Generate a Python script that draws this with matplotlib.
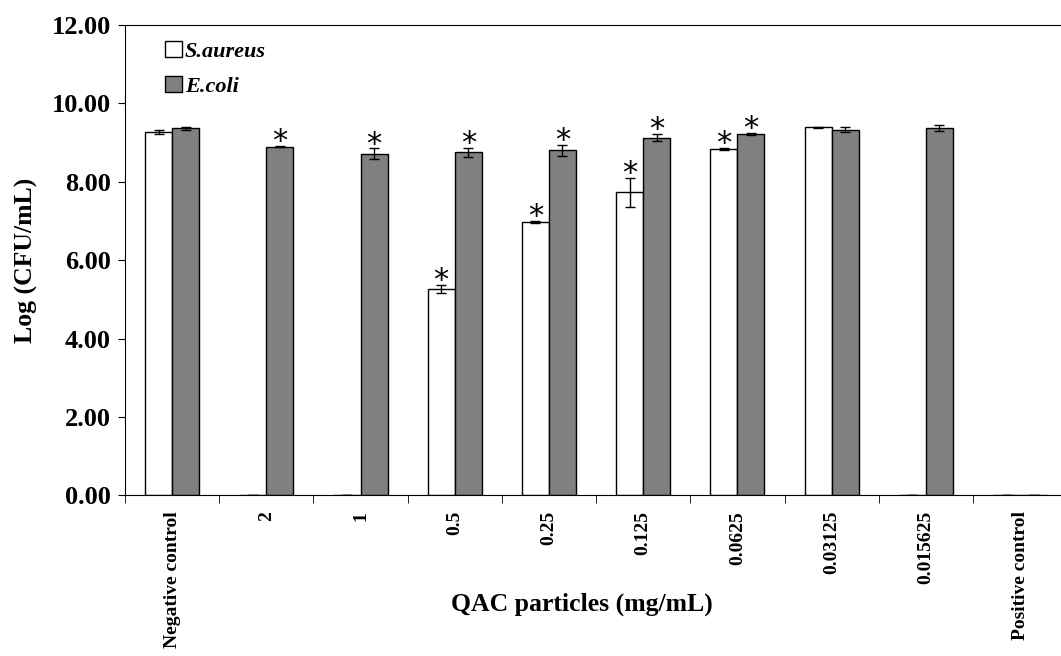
import numpy as np
import matplotlib
matplotlib.use('Agg')
import matplotlib.pyplot as plt

plt.rcParams['font.family'] = ['Liberation Serif', 'DejaVu Serif']

categories = ['Negative control', '2', '1', '0.5', '0.25', '0.125',
              '0.0625', '0.03125', '0.015625', 'Positive control']

# Log(CFU/mL)
s_aureus = [9.27, 0.00, 0.00, 5.27, 6.97, 7.73, 8.84, 9.39, 0.00, 0.00]
s_aureus_err = [0.05, 0.0, 0.0, 0.10, 0.03, 0.38, 0.03, 0.01, 0.0, 0.0]
e_coli = [9.36, 8.90, 8.72, 8.75, 8.81, 9.13, 9.22, 9.33, 9.37, 0.00]
e_coli_err = [0.04, 0.02, 0.13, 0.12, 0.14, 0.10, 0.02, 0.07, 0.07, 0.0]

# significance markers
s_aureus_star = [False, False, False, True, True, True, True, False, False, False]
e_coli_star = [False, True, True, True, True, True, True, False, False, False]

fig = plt.figure(figsize=(10.61, 6.56), dpi=100)
ax = fig.add_axes([0.1178, 0.2447, 0.888, 0.7172])

x = np.arange(len(categories))
w = 0.287

ax.bar(x - w / 2, s_aureus, w, color='white', edgecolor='black', linewidth=1,
       yerr=s_aureus_err, capsize=3.5, error_kw={'elinewidth': 1, 'capthick': 1},
       label='S.aureus', zorder=2)
ax.bar(x + w / 2, e_coli, w, color='#808080', edgecolor='black', linewidth=1,
       yerr=e_coli_err, capsize=3.5, error_kw={'elinewidth': 1, 'capthick': 1},
       label='E.coli', zorder=2)

# asterisks
for i in range(len(categories)):
    if s_aureus_star[i]:
        ax.annotate('*', (x[i] - w / 2, s_aureus[i] + s_aureus_err[i]),
                    xytext=(0, -3), textcoords='offset points',
                    ha='center', va='baseline', fontsize=22, family='DejaVu Sans')
    if e_coli_star[i]:
        ax.annotate('*', (x[i] + w / 2, e_coli[i] + e_coli_err[i]),
                    xytext=(0, -3), textcoords='offset points',
                    ha='center', va='baseline', fontsize=22, family='DejaVu Sans')

ax.set_xlim(-0.5, len(categories) - 0.5)
ax.set_ylim(0, 12)
ax.set_yticks(np.arange(0, 13, 2))
ax.set_yticklabels(['%.2f' % v for v in np.arange(0, 13, 2)],
                   fontsize=19, fontweight='bold')

ax.set_xticks(x)
ax.set_xticklabels(categories, rotation=90, fontsize=14, fontweight='bold')
ax.tick_params(axis='x', which='major', length=0, pad=11)
ax.set_xticks(np.arange(-0.5, len(categories)), minor=True)
ax.tick_params(axis='x', which='minor', length=6, direction='out')
ax.tick_params(axis='y', length=5, direction='out', pad=5)

ax.spines['right'].set_visible(False)

ax.set_ylabel('Log (CFU/mL)', fontsize=18.5, fontweight='bold', labelpad=10)
fig.text(582 / 1061, 1 - 604 / 656, 'QAC particles (mg/mL)', ha='center', va='center',
         fontsize=18.5, fontweight='bold')

leg = ax.legend(loc='upper left', bbox_to_anchor=(165 / 1061, 1 - 41 / 656),
                bbox_transform=fig.transFigure, frameon=False,
                borderpad=0, borderaxespad=0,
                prop={'size': 16, 'weight': 'bold', 'style': 'italic'},
                handlelength=0.75, handleheight=0.75, handletextpad=0.15,
                labelspacing=0.62)

fig.savefig('out.png', dpi=100)
